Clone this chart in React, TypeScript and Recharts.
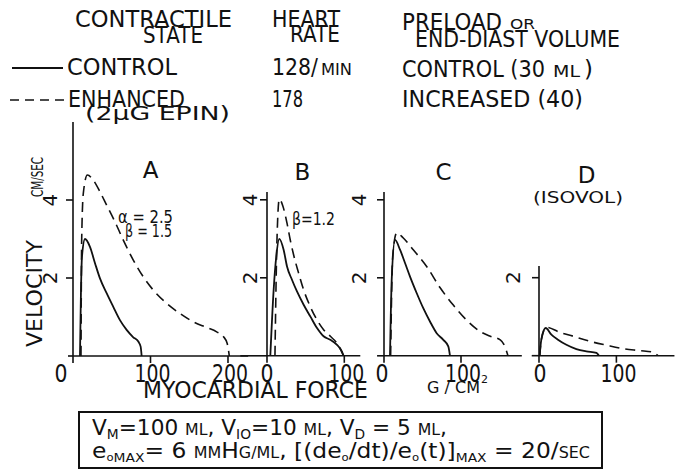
import React from 'react';
import { LineChart, Line, XAxis, YAxis, ReferenceLine } from 'recharts';

const FONT = '"DejaVu Sans", "Liberation Sans", sans-serif';
const INK = '#111';

// velocity (cm/sec) against myocardial force (g/cm²)
const controlA = [
  { f: 9, v: 0 }, { f: 10.3, v: 1.69 }, { f: 11.6, v: 2.55 }, { f: 15.5, v: 3.0 }, { f: 21.9, v: 2.8 },
  { f: 28.4, v: 2.38 }, { f: 34.8, v: 1.99 }, { f: 43.4, v: 1.61 }, { f: 52, v: 1.26 }, { f: 60.6, v: 0.92 },
  { f: 69.2, v: 0.67 }, { f: 77.8, v: 0.48 }, { f: 84.3, v: 0.37 }, { f: 87.3, v: 0.24 }, { f: 88.6, v: 0 },
];
const enhancedA = [
  { f: 10.3, v: 0 }, { f: 11.2, v: 2.97 }, { f: 13.3, v: 4.17 }, { f: 18.5, v: 4.64 }, { f: 26.2, v: 4.51 },
  { f: 34.8, v: 4.21 }, { f: 43.4, v: 3.87 }, { f: 54.2, v: 3.44 }, { f: 64.9, v: 2.97 }, { f: 77.8, v: 2.46 },
  { f: 90.7, v: 2.03 }, { f: 103.6, v: 1.69 }, { f: 120.9, v: 1.35 }, { f: 138, v: 1.09 }, { f: 155, v: 0.88 },
  { f: 172.5, v: 0.73 }, { f: 185.4, v: 0.62 }, { f: 194, v: 0.5 }, { f: 199, v: 0.32 }, { f: 201.7, v: 0 },
];
const controlB = [
  { f: 4.3, v: 0 }, { f: 8.6, v: 1.69 }, { f: 12, v: 2.55 }, { f: 15.9, v: 3.0 }, { f: 21.5, v: 2.72 },
  { f: 25.9, v: 2.29 }, { f: 32.3, v: 1.95 }, { f: 38.8, v: 1.65 }, { f: 47.4, v: 1.31 }, { f: 56, v: 1.01 },
  { f: 64.7, v: 0.71 }, { f: 73.2, v: 0.5 }, { f: 81.9, v: 0.41 }, { f: 90.6, v: 0.28 }, { f: 97, v: 0.11 },
  { f: 99, v: 0 },
];
const enhancedB = [
  { f: 10.3, v: 0 }, { f: 12.9, v: 2.97 }, { f: 15.9, v: 4.02 }, { f: 20.7, v: 3.83 }, { f: 25.9, v: 3.4 },
  { f: 30.1, v: 2.97 }, { f: 34.4, v: 2.59 }, { f: 40.9, v: 2.12 }, { f: 47.4, v: 1.69 }, { f: 56, v: 1.26 },
  { f: 64.7, v: 0.92 }, { f: 73.2, v: 0.67 }, { f: 81.9, v: 0.5 }, { f: 90.6, v: 0.32 }, { f: 99, v: 0 },
];
const controlC = [
  { f: 7.8, v: 0 }, { f: 10, v: 1.95 }, { f: 14.3, v: 2.97 }, { f: 20.8, v: 2.72 }, { f: 27.3, v: 2.38 },
  { f: 33.8, v: 2.03 }, { f: 42.4, v: 1.61 }, { f: 51, v: 1.22 }, { f: 59.7, v: 0.88 }, { f: 68.4, v: 0.58 },
  { f: 77, v: 0.41 }, { f: 83.5, v: 0.24 }, { f: 85.7, v: 0 },
];
const enhancedC = [
  { f: 8.6, v: 0 }, { f: 11.3, v: 2.55 }, { f: 16.5, v: 3.15 }, { f: 25.1, v: 3.02 }, { f: 38, v: 2.72 },
  { f: 55.4, v: 2.29 }, { f: 72.7, v: 1.75 }, { f: 90, v: 1.3 }, { f: 107, v: 0.92 }, { f: 125, v: 0.62 },
  { f: 138, v: 0.5 }, { f: 151, v: 0.41 }, { f: 157, v: 0.24 }, { f: 161, v: 0 },
];
const controlD = [
  { f: 0.9, v: 0 }, { f: 3, v: 0.41 }, { f: 8.6, v: 0.71 }, { f: 16, v: 0.54 }, { f: 24.5, v: 0.41 },
  { f: 35.4, v: 0.28 }, { f: 48.3, v: 0.17 }, { f: 61.2, v: 0.11 }, { f: 74.2, v: 0.07 }, { f: 77.6, v: 0 },
];
const enhancedD = [
  { f: 0.9, v: 0 }, { f: 3, v: 0.41 }, { f: 9.5, v: 0.73 }, { f: 26.7, v: 0.6 }, { f: 44, v: 0.5 },
  { f: 65.5, v: 0.37 }, { f: 87, v: 0.27 }, { f: 108.5, v: 0.18 }, { f: 130, v: 0.13 }, { f: 147, v: 0.09 },
  { f: 153.6, v: 0 },
];

const ticksA = [0, 100, 200];
const ticksX = [0, 100];
const ticksY = [2, 4];
const ticksYD = [2];

// shared vertical scale: baseline at y=356, 39px per cm/sec
const Y0 = 356;
const KY = 39;
const YW = 40;
const MT = 10;
const MR = 20;
const XH = 36;

function Panel({ x0, kx, xmin, xmax, ymax, xTicks, yTicks, yGap, zeroShift, control, enhanced }: any) {
  const pw = xmax * kx;
  const ph = ymax * KY;
  const width = YW + pw + MR;
  const height = MT + ph + XH;

  const xTick = (p: any) => {
    const val = p.payload.value;
    const s = String(val);
    const dx = val === 0 ? zeroShift : 2;
    return (
      <text x={p.x + dx} y={p.y + 17} textAnchor="middle" fontSize={24} fill={INK} fontFamily={FONT}
        textLength={s.length === 1 ? 13 : 36} lengthAdjust="spacingAndGlyphs">
        {s}
      </text>
    );
  };
  const yTick = (p: any) => {
    const cx = p.x + 9 - yGap;
    const cy = p.y;
    return (
      <text x={cx} y={cy} transform={`rotate(-90 ${cx} ${cy})`} textAnchor="middle" dominantBaseline="central"
        fontSize={20} fill={INK} fontFamily={FONT}>
        {p.payload.value}
      </text>
    );
  };

  return (
    <div style={{ position: 'absolute', left: x0 - YW, top: Y0 - ph - MT }}>
      <LineChart width={width} height={height} margin={{ top: MT, right: MR, bottom: 0, left: 0 }}>
        <XAxis type="number" dataKey="f" domain={[0, xmax]} ticks={xTicks} interval={0} allowDataOverflow
          height={XH} tickSize={7} axisLine={{ stroke: INK, strokeWidth: 1.6 }}
          tickLine={{ stroke: INK, strokeWidth: 1.6 }} tick={xTick} />
        <YAxis type="number" dataKey="v" domain={[0, ymax]} ticks={yTicks} interval={0} allowDataOverflow
          width={YW} tickSize={7} axisLine={{ stroke: INK, strokeWidth: 1.6 }}
          tickLine={{ stroke: INK, strokeWidth: 1.6 }} tick={yTick} />
        <ReferenceLine segment={[{ x: xmin, y: 0 }, { x: 0, y: 0 }]} stroke={INK} strokeWidth={1.6} ifOverflow="visible" />
        <Line data={control} dataKey="v" type="monotone" stroke={INK} strokeWidth={1.8} dot={false}
          isAnimationActive={false} />
        <Line data={enhanced} dataKey="v" type="monotone" stroke={INK} strokeWidth={1.6} strokeDasharray="10 6"
          dot={false} isAnimationActive={false} />
      </LineChart>
    </div>
  );
}

function T({ x, y, size = 23, len, anchor, children }: any) {
  return (
    <text x={x} y={y} fontSize={size} textAnchor={anchor} textLength={len}
      lengthAdjust={len ? 'spacingAndGlyphs' : undefined}>
      {children}
    </text>
  );
}

export default function App() {
  return (
    <div style={{ position: 'absolute', left: 0, top: 0, width: 675, height: 473, background: '#fff', overflow: 'hidden' }}>
      <Panel x0={73} kx={0.775} xmin={-6.5} xmax={226} ymax={6} xTicks={ticksA} yTicks={ticksY} yGap={23}
        zeroShift={-12} control={controlA} enhanced={enhancedA} />
      <Panel x0={266.7} kx={0.773} xmin={-34.5} xmax={120.7} ymax={4.2} xTicks={ticksX} yTicks={ticksY} yGap={17}
        zeroShift={0} control={controlB} enhanced={enhancedB} />
      <Panel x0={384} kx={0.77} xmin={-9} xmax={179} ymax={4.2} xTicks={ticksX} yTicks={ticksY} yGap={25}
        zeroShift={-2} control={controlC} enhanced={enhancedC} />
      <Panel x0={539.3} kx={0.774} xmin={-9.4} xmax={175} ymax={2.3} xTicks={ticksX} yTicks={ticksYD} yGap={26}
        zeroShift={1} control={controlD} enhanced={enhancedD} />

      <svg width={675} height={473} style={{ position: 'absolute', left: 0, top: 0, pointerEvents: 'none' }}
        fontFamily={FONT} fill={INK}>
        {/* column heads */}
        <T x={75} y={27} len={157}>CONTRACTILE</T>
        <T x={143} y={43} len={60}>STATE</T>
        <T x={272} y={27} len={68}>HEART</T>
        <T x={290} y={42} len={50}>RATE</T>
        <T x={402} y={30} len={100}>PRELOAD</T>
        <T x={510} y={29} size={14} len={25}>OR</T>
        <T x={415} y={47} len={205}>END-DIAST VOLUME</T>

        {/* legend rows */}
        <line x1={12} x2={63} y1={68} y2={68} stroke={INK} strokeWidth={1.8} />
        <T x={67} y={75} len={110}>CONTROL</T>
        <T x={272} y={75} len={46}>128/</T>
        <T x={321} y={75} size={15} len={31}>MIN</T>
        <T x={402} y={77} len={143}>CONTROL (30</T>
        <T x={553} y={77} size={15} len={27}>ML</T>
        <T x={584} y={77}>)</T>

        <line x1={10} x2={65} y1={100} y2={100} stroke={INK} strokeWidth={1.6} strokeDasharray="9 6" />
        <T x={68} y={107} len={117}>ENHANCED</T>
        <T x={272} y={107} len={31}>178</T>
        <T x={402} y={107} len={181}>INCREASED (40)</T>
        <T x={85} y={120} size={20} len={145}>(2μG EPIN)</T>

        {/* panel letters */}
        <T x={150.5} y={178} anchor="middle">A</T>
        <T x={302.5} y={180} anchor="middle">B</T>
        <T x={443.5} y={180} anchor="middle">C</T>
        <T x={586.5} y={183} anchor="middle">D</T>
        <T x={578} y={203} size={16} len={90} anchor="middle">(ISOVOL)</T>
        <T x={118} y={223} size={18} len={55}>α = 2.5</T>
        <T x={125} y={237} size={18} len={47}>β = 1.5</T>
        <T x={292} y={225} size={18} len={43}>β=1.2</T>

        {/* axis titles */}
        <text transform="translate(42 347) rotate(-90)" fontSize={21} textLength={107} lengthAdjust="spacingAndGlyphs">VELOCITY</text>
        <text transform="translate(43 197) rotate(-90)" fontSize={15} textLength={40} lengthAdjust="spacingAndGlyphs">CM/SEC</text>
        <T x={143} y={398} len={225}>MYOCARDIAL FORCE</T>
        <T x={427} y={393} size={16} len={53}>G / CM</T>
        <T x={481} y={383} size={11}>2</T>

        {/* parameter box */}
        <rect x={79} y={412} width={523} height={56} fill="none" stroke={INK} strokeWidth={2} />
        <text x={92} y={435} fontSize={22} textLength={355} lengthAdjust="spacingAndGlyphs">
          V<tspan fontSize={14} dy={4}>M</tspan>
          <tspan dy={-4}>=100 </tspan><tspan fontSize={16}>ML</tspan>, V<tspan fontSize={14} dy={4}>IO</tspan>
          <tspan dy={-4}>=10 </tspan><tspan fontSize={16}>ML</tspan>, V<tspan fontSize={14} dy={4}>D</tspan>
          <tspan dy={-4}> = 5 </tspan><tspan fontSize={16}>ML</tspan>,
        </text>
        <text x={92} y={458} fontSize={22} textLength={498} lengthAdjust="spacingAndGlyphs">
          e<tspan fontSize={11} dy={3}>o</tspan><tspan fontSize={13} dy={1}>MAX</tspan>
          <tspan dy={-4}>= 6 </tspan><tspan fontSize={15}>MM</tspan>H<tspan fontSize={15}>G/ML</tspan>, [(de
          <tspan fontSize={11} dy={3}>o</tspan><tspan dy={-3}>/dt)/e</tspan><tspan fontSize={11} dy={3}>o</tspan>
          <tspan dy={-3}>(t)]</tspan><tspan fontSize={13} dy={4}>MAX</tspan><tspan dy={-4}> = 20/</tspan>
          <tspan fontSize={15}>SEC</tspan>
        </text>
      </svg>
    </div>
  );
}
